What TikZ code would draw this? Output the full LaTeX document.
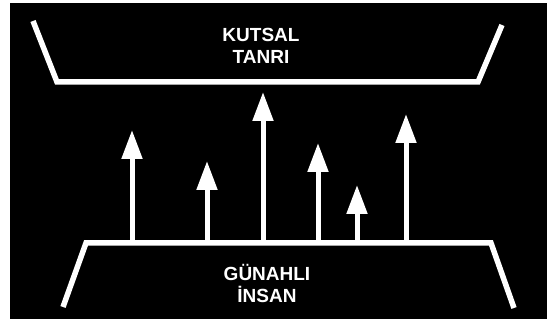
\documentclass[tikz,border=0pt]{standalone}
\usepackage{fontspec}
\setmainfont{Liberation Sans}
\usetikzlibrary{arrows.meta}
\begin{document}
\begin{tikzpicture}[x=1pt,y=-1pt,
  wline/.style={draw=white,line width=5.5pt,line join=miter,line cap=butt},
  uparrow/.style={draw=white,line width=5pt,-{Triangle[width=20pt,length=29pt]}},
  label/.style={text=white,font=\fontsize{19}{22}\selectfont\bfseries,align=center,inner sep=0pt}]
\useasboundingbox (0,0) rectangle (547,320);
\fill[white] (0,0) rectangle (547,320);
\fill[black] (10,3) rectangle (547,319);
% top trough
\draw[wline] (33,21) -- (57,82) -- (478,82) -- (502,25);
% bottom base
\draw[wline] (63,307) -- (86,243) -- (491,243) -- (514,308);
\node[label] (god) at (261,46) {KUTSAL\\TANRI};
\node[label] (man) at (267,283) {GÜNAHLI\\İNSAN};
\foreach \n/\x/\t in {a/132/130,b/207/161,c/263/92,d/318/143,e/357/185,f/406/114}{
  \coordinate (s\n) at (\x,243);
  \coordinate (t\n) at (\x,\t);
  \draw[uparrow] (s\n) -- (t\n);
}
\end{tikzpicture}
\end{document}
